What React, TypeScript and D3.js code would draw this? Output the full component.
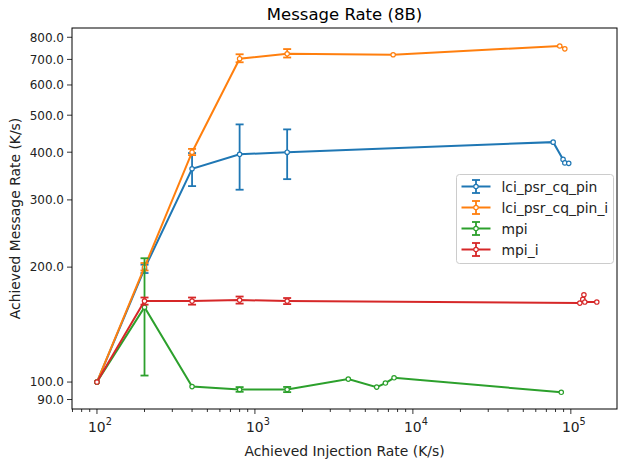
import * as d3 from "d3"
import { useEffect, useRef } from "react"

// names and colours of the four runs
const seriesNames = ["lci_psr_cq_pin", "lci_psr_cq_pin_i", "mpi", "mpi_i"]
const seriesColors = ["#1f77b4", "#ff7f0e", "#2ca02c", "#d62728"]

// lci_psr_cq_pin
const pinX = [100, 200, 400, 800, 1600, 77300, 89300, 91600, 97000]
const pinY = [100, 198, 362, 395, 400, 425, 383, 375, 374]
const pinLo = [null, 193, 326, 319, 340, null, null, null, null]
const pinHi = [null, 203, 398, 473, 459, null, null, null, null]

// lci_psr_cq_pin_i
const pinIX = [100, 200, 400, 800, 1600, 7500, 85100, 91600]
const pinIY = [100, 200, 400, 703, 724, 720, 759, 746]
const pinILo = [null, 196, 393, 688, 708, null, null, null]
const pinIHi = [null, 205, 408, 722, 745, null, null, null]

// mpi
const mpiX = [100, 200, 400, 800, 1600, 3900, 5900, 6700, 7600, 87000]
const mpiY = [100, 157, 97.3, 95.6, 95.6, 101.8, 97, 99.4, 102.6, 94]
const mpiLo = [null, 104, null, 94.3, 94.1, null, null, null, null, null]
const mpiHi = [null, 211, null, 97, 97.1, null, null, null, null, null]

// mpi_i
const mpiIX = [100, 200, 400, 800, 1600, 114000, 119000, 121000, 122600, 146000]
const mpiIY = [100, 163, 163, 164, 163, 161, 164.6, 169.3, 162, 162]
const mpiILo = [null, 159.5, 159.5, 160.5, 160, null, null, null, null, null]
const mpiIHi = [null, 166.5, 166.5, 167.5, 166, null, null, null, null, null]

const yTicks = [90, 100, 200, 300, 400, 500, 600, 700, 800]
const xTicks = [100, 1000, 10000, 100000]

const title = "Message Rate (8B)"
const xLabel = "Achieved Injection Rate (K/s)"
const yLabel = "Achieved Message Rate (K/s)"

type Pt = { x: number; y: number; lo: number | null; hi: number | null }

const zip = (xs: number[], ys: number[], lo: (number | null)[], hi: (number | null)[]): Pt[] =>
  xs.map((x, i) => ({ x, y: ys[i], lo: lo[i], hi: hi[i] }))

const series = [
  zip(pinX, pinY, pinLo, pinHi),
  zip(pinIX, pinIY, pinILo, pinIHi),
  zip(mpiX, mpiY, mpiLo, mpiHi),
  zip(mpiIX, mpiIY, mpiILo, mpiIHi),
]

const FONT = "DejaVu Sans, sans-serif"

export default function App() {
  const svgRef = useRef<SVGSVGElement>(null)

  useEffect(() => {
    if (!svgRef.current) return
    const root = d3.select(svgRef.current)
    root.selectAll("*").remove()

    const left = 72, right = 617, top = 28, bottom = 409

    const x = d3.scaleLog().domain([69.5, 196000]).range([left, right])
    const y = d3.scaleLog().domain([85, 846]).range([bottom, top])

    root.append("rect").attr("width", 619).attr("height", 462).attr("fill", "white")

    // minor x ticks
    const minor: number[] = []
    for (let e = 1; e <= 5; e++) {
      for (let m = 2; m <= 9; m++) {
        const v = m * Math.pow(10, e)
        if (v > 69.5 && v < 196000) minor.push(v)
      }
    }
    root.append("g").selectAll("line").data(minor).join("line")
      .attr("x1", (d) => x(d)).attr("x2", (d) => x(d))
      .attr("y1", bottom).attr("y2", bottom + 3)
      .attr("stroke", "black").attr("stroke-width", 0.8)

    const xg = root.append("g")
    xg.selectAll("line").data(xTicks).join("line")
      .attr("x1", (d) => x(d)).attr("x2", (d) => x(d))
      .attr("y1", bottom).attr("y2", bottom + 5)
      .attr("stroke", "black").attr("stroke-width", 0.8)
    const xt = xg.selectAll("text").data(xTicks).join("text")
      .attr("x", (d) => x(d) + 3)
      .attr("y", bottom + 23)
      .attr("text-anchor", "middle")
      .style("font-family", FONT)
      .style("font-size", "13.9px")
      .attr("fill", "#222")
    xt.append("tspan").text("10")
    xt.append("tspan").attr("dy", -7).style("font-size", "9.7px").text((d) => String(Math.round(Math.log10(d))))

    // y ticks
    const yg = root.append("g")
    yg.selectAll("line").data(yTicks).join("line")
      .attr("x1", left - 5).attr("x2", left)
      .attr("y1", (d) => y(d)).attr("y2", (d) => y(d))
      .attr("stroke", "black").attr("stroke-width", 0.8)
    yg.selectAll("text").data(yTicks).join("text")
      .attr("x", left - 8)
      .attr("y", (d) => y(d))
      .attr("dy", "0.36em")
      .attr("text-anchor", "end")
      .style("font-family", FONT)
      .style("font-size", "12px")
      .attr("fill", "#222")
      .text((d) => d.toFixed(1))

    // series
    const line = d3.line<Pt>().x((d) => x(d.x)).y((d) => y(d.y))
    series.forEach((pts, i) => {
      const c = seriesColors[i]
      const g = root.append("g")
      const errs = pts.filter((d) => d.lo !== null && d.hi !== null)
      g.selectAll(".eb").data(errs).join("line")
        .attr("x1", (d) => x(d.x)).attr("x2", (d) => x(d.x))
        .attr("y1", (d) => y(d.lo as number)).attr("y2", (d) => y(d.hi as number))
        .attr("stroke", c).attr("stroke-width", 1.8)
      errs.forEach((d) => {
        ;[d.lo as number, d.hi as number].forEach((v) => {
          g.append("line")
            .attr("x1", x(d.x) - 4).attr("x2", x(d.x) + 4)
            .attr("y1", y(v)).attr("y2", y(v))
            .attr("stroke", c).attr("stroke-width", 1.8)
        })
      })
      g.append("path").datum(pts)
        .attr("d", line)
        .attr("fill", "none")
        .attr("stroke", c)
        .attr("stroke-width", 2)
      g.selectAll("circle").data(pts).join("circle")
        .attr("cx", (d) => x(d.x)).attr("cy", (d) => y(d.y))
        .attr("r", 2.2)
        .attr("fill", "white")
        .attr("stroke", c)
        .attr("stroke-width", 1.2)
    })

    // frame
    root.append("rect")
      .attr("x", left).attr("y", top)
      .attr("width", right - left).attr("height", bottom - top)
      .attr("fill", "none").attr("stroke", "black").attr("stroke-width", 1)

    // legend
    const lg = root.append("g").attr("transform", "translate(456.5,174.5)")
    lg.append("rect")
      .attr("width", 157).attr("height", 89).attr("rx", 3)
      .attr("fill", "white").attr("fill-opacity", 0.8)
      .attr("stroke", "#cccccc").attr("stroke-width", 1)
    seriesNames.forEach((name, i) => {
      const c = seriesColors[i]
      const cy = 12 + i * 21
      const row = lg.append("g")
      row.append("line").attr("x1", 5).attr("x2", 34).attr("y1", cy).attr("y2", cy)
        .attr("stroke", c).attr("stroke-width", 2)
      row.append("line").attr("x1", 19.5).attr("x2", 19.5).attr("y1", cy - 6.5).attr("y2", cy + 6.5)
        .attr("stroke", c).attr("stroke-width", 1.8)
      ;[-6.5, 6.5].forEach((o) => {
        row.append("line").attr("x1", 15.5).attr("x2", 23.5).attr("y1", cy + o).attr("y2", cy + o)
          .attr("stroke", c).attr("stroke-width", 1.8)
      })
      row.append("circle").attr("cx", 19.5).attr("cy", cy).attr("r", 2.2)
        .attr("fill", "white").attr("stroke", c).attr("stroke-width", 1.2)
      row.append("text").attr("x", 45).attr("y", cy).attr("dy", "0.36em")
        .style("font-family", FONT).style("font-size", "13.9px").attr("fill", "#222")
        .text(name)
    })

    // labels
    root.append("text")
      .attr("x", (left + right) / 2).attr("y", 20)
      .attr("text-anchor", "middle")
      .style("font-family", FONT).style("font-size", "16.5px").attr("fill", "black")
      .text(title)
    root.append("text")
      .attr("x", (left + right) / 2).attr("y", 456)
      .attr("text-anchor", "middle")
      .style("font-family", FONT).style("font-size", "13.9px").attr("fill", "#222")
      .text(xLabel)
    root.append("text")
      .attr("transform", `translate(20,${(top + bottom) / 2})rotate(-90)`)
      .attr("text-anchor", "middle")
      .style("font-family", FONT).style("font-size", "13.9px").attr("fill", "#222")
      .text(yLabel)
  }, [])

  return (
    <>
      <style>{"body{margin:0}"}</style>
      <svg ref={svgRef} width={619} height={462} style={{ display: "block" }} />
    </>
  )
}
